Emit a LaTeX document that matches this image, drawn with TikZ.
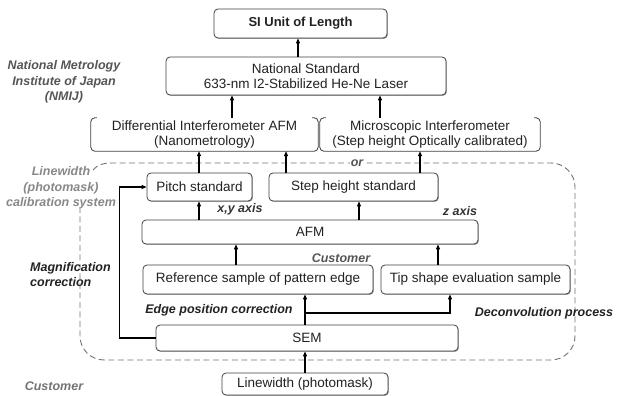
\documentclass[tikz,border=0pt]{standalone}
\usepackage{fontspec}
\setmainfont{Liberation Sans}
\usetikzlibrary{arrows.meta,shadows}
\definecolor{txt}{HTML}{222222}
\definecolor{lbl}{HTML}{555555}
\definecolor{lgray}{HTML}{888888}
\begin{document}
\begin{tikzpicture}[x=1pt,y=-1pt,
  boxfont/.style={font=\fontsize{13.5}{15.5}\selectfont},
  box/.style={draw=black!75,line width=0.8pt,rounded corners=4pt,fill=white,inner sep=0pt,
    align=center,text=txt,boxfont,
    drop shadow={shadow xshift=0.9pt,shadow yshift=-0.9pt,fill=black!35,opacity=1}},
  brk/.style={inner sep=0pt,align=center,text=txt,boxfont},
  brkline/.style={draw=black!75,line width=0.8pt,rounded corners=4pt},
  arr/.style={line width=1.1pt,-{Triangle[length=5pt,width=4pt]}},
  plain/.style={line width=1.1pt},
  dashline/.style={draw=black!55,line width=0.9pt,dash pattern=on 6pt off 3.5pt},
  lab/.style={font=\bfseries\itshape\fontsize{12.5}{15.5}\selectfont,inner sep=0pt,align=center}
]
\useasboundingbox (0,0) rectangle (619,396);

% boxes
\node[box,minimum width=173,minimum height=29,font=\bfseries\fontsize{13}{15}\selectfont] (si) at (300.5,23.5) {SI Unit of Length};
\node[box,minimum width=280,minimum height=38] (ns) at (306,76) {National Standard\\633-nm I2-Stabilized He-Ne Laser};
\node[brk,minimum width=227,minimum height=33] (diff) at (204.5,134.5) {Differential Interferometer AFM\\(Nanometrology)};
\node[brk,minimum width=220,minimum height=33] (micro) at (430,134.5) {Microscopic Interferometer\\(Step height Optically calibrated)};
\draw[brkline] ([xshift=6]diff.north west) -- (diff.north west) -- (diff.south west) -- (diff.south east) -- (diff.north east) -- ([xshift=-6]diff.north east);
\draw[brkline] ([xshift=6]micro.north west) -- (micro.north west) -- (micro.south west) -- (micro.south east) -- (micro.north east) -- ([xshift=-6]micro.north east);

% dashed boundary
\draw[dashline] (93,170) .. controls (97,165) and (103,163) .. (112,163) [rounded corners=24pt] -- (575,163) -- (575,360) -- (80,360) -- (80,209);

\node[box,minimum width=105,minimum height=28] (pitch) at (199.5,187) {Pitch standard};
\node[box,minimum width=169,minimum height=28] (step) at (353.5,187) {Step height standard};
\node[box,minimum width=336,minimum height=24] (afm) at (310,232) {AFM};
\node[box,minimum width=230,minimum height=29] (ref) at (258,279.5) {Reference sample of pattern edge};
\node[box,minimum width=189,minimum height=29] (tip) at (475.5,279.5) {Tip shape evaluation sample};
\node[box,minimum width=302,minimum height=26] (sem) at (307,338) {SEM};
\node[box,minimum width=166,minimum height=22] (lw) at (305,384) {Linewidth (photomask)};

% x positions of connectors
\coordinate (c298) at (298,0);
\coordinate (c232) at (232,0);
\coordinate (c380) at (380,0);
\coordinate (c199) at (199,0);
\coordinate (c286) at (286,0);
\coordinate (c420) at (420,0);
\coordinate (c359) at (359,0);
\coordinate (c236) at (236,0);
\coordinate (c438) at (438,0);
\coordinate (c305) at (305,0);
\coordinate (c450) at (450,0);
\coordinate (br) at (305,313);

% connectors
\draw[arr] (ns.north -| c298) -- (si.south -| c298);
\draw[arr] (diff.north -| c232) -- (ns.south -| c232);
\draw[arr] (micro.north -| c380) -- (ns.south -| c380);
\draw[arr] (pitch.north -| c199) -- (diff.south -| c199);
\draw[arr] (step.north -| c286) -- (diff.south -| c286);
\draw[arr] (step.north -| c420) -- (micro.south -| c420);
\draw[arr] (afm.north -| c199) -- (pitch.south -| c199);
\draw[arr] (afm.north -| c359) -- (step.south -| c359);
\draw[arr] (ref.north -| c236) -- (afm.south -| c236);
\draw[arr] (tip.north -| c438) -- (afm.south -| c438);
\draw[arr] (sem.north -| c305) -- (ref.south -| c305);
\draw[arr] (br) -| (tip.south -| c450);
\draw[arr] (lw.north -| c305) -- (sem.south -| c305);
\draw[arr] (sem.west) -- ++(-36,0) |- (pitch.west);

% labels
\node[lab,text=lbl] (nmij) at (64,82) {National Metrology\\Institute of Japan\\(NMIJ)};
\node[lab,text=lgray] (lwcal) at (61,188) {Linewidth\\(photomask)\\calibration system};
\node[lab,text=lbl,fill=white,inner sep=1pt] (or) at (357,163) {or};
\node[lab,text=black!80] (xy) at (240,209) {x,y axis};
\node[lab,text=black!80] (z) at (460,211) {z axis};
\node[lab,text=lbl] (cust1) at (341,258) {Customer};
\node[lab,text=txt,align=left,anchor=west] (mag) at (30,274.5) {Magnification\\correction};
\node[lab,text=txt] (edge) at (219,310) {Edge position correction};
\node[lab,text=txt] (dec) at (544,313) {Deconvolution process};
\node[lab,text=black!55] (cust2) at (54,386) {Customer};
\end{tikzpicture}
\end{document}
